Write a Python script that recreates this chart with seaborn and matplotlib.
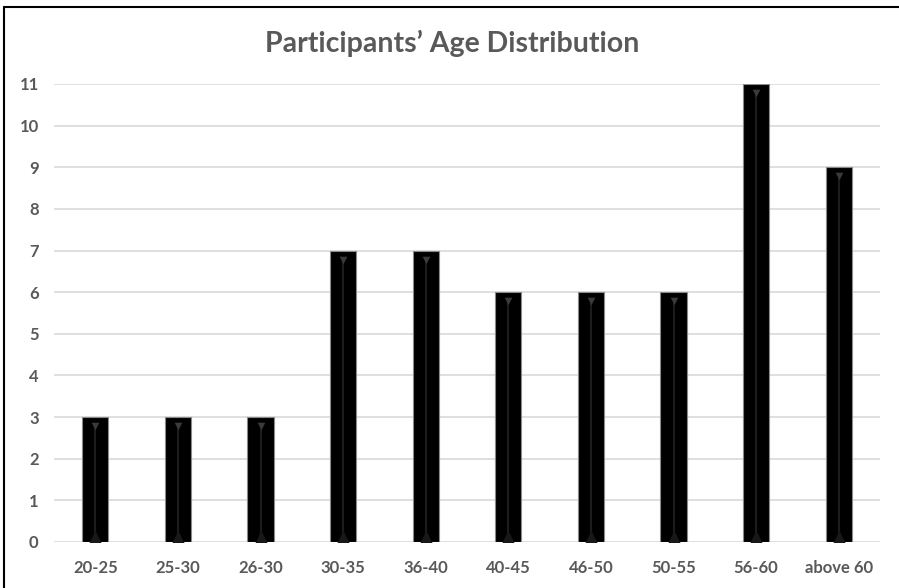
import matplotlib
matplotlib.use("Agg")
import matplotlib.pyplot as plt
from matplotlib.lines import Line2D
import seaborn as sns
import pandas as pd

age_groups = ["20-25", "25-30", "26-30", "30-35", "36-40", "40-45",
              "46-50", "50-55", "56-60", "above 60"]
participants = [3, 3, 3, 7, 7, 6, 6, 6, 11, 9]
y_ticks = list(range(0, 12))

sns.set_theme(style="white")
plt.rcParams["font.family"] = ["Lato", "DejaVu Sans"]

df = pd.DataFrame({"age": age_groups, "count": participants})

fig = plt.figure(figsize=(8.99, 5.88), dpi=100)
ax = fig.add_axes([54 / 899, 1 - 542 / 588, (880 - 54) / 899, (542 - 84) / 588])

sns.barplot(data=df, x="age", y="count", color="black", width=0.315,
            saturation=1, edgecolor="#8a8a8a", linewidth=0.8, ax=ax, zorder=3)

# bevel accents on each bar
for i, v in enumerate(participants):
    ax.plot([i, i], [0.15, v - 0.25], color="#1c1c1c", lw=1.5, zorder=4)
    ax.scatter([i], [v - 0.22], marker="v", s=30, color="#3a3a3a", zorder=5, linewidths=0)
    ax.scatter([i], [0.12], marker="^", s=90, color="#181818", zorder=5, linewidths=0)

ax.set_ylim(0, 11)
ax.set_xlim(-0.5, len(age_groups) - 0.5)
ax.set_yticks(y_ticks)
ax.yaxis.grid(True, color="#d9d9d9", lw=1.2, zorder=0)
ax.set_axisbelow(True)
for s in ax.spines.values():
    s.set_visible(False)
ax.set_xlabel("")
ax.set_ylabel("")
ax.tick_params(axis="both", length=0, labelcolor="#595959", labelsize=12)
ax.tick_params(axis="x", pad=13)
ax.tick_params(axis="y", pad=11)
for lbl in ax.get_xticklabels() + ax.get_yticklabels():
    lbl.set_fontweight("bold")

fig.text(452 / 899, 1 - 43 / 588, "Participants\u2019 Age Distribution",
         ha="center", va="center", fontsize=20.5, fontweight="bold", color="#595959")

# chart frame
fig.add_artist(Line2D([4 / 899, 1], [1 - 7 / 588, 1 - 7 / 588], color="black", lw=1.5))
fig.add_artist(Line2D([4 / 899, 4 / 899], [0, 1 - 7 / 588], color="black", lw=1.5))

fig.savefig("out.png", dpi=100, facecolor="white")
